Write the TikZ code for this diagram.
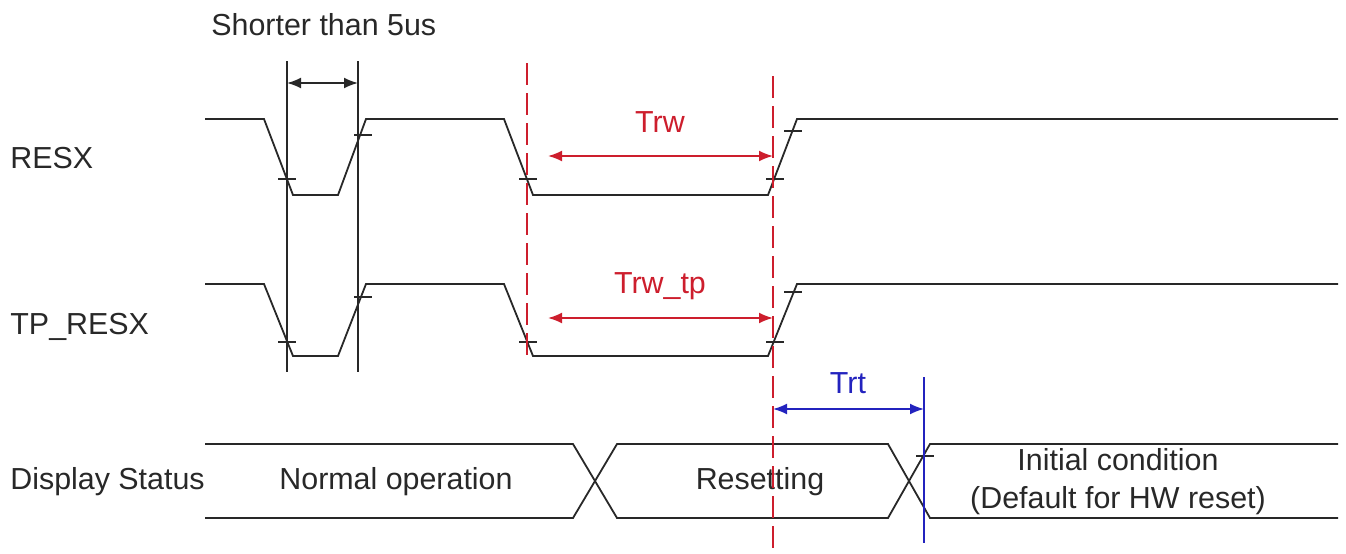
\documentclass[tikz,border=0pt]{standalone}
\usepackage{fontspec}
\setmainfont{Liberation Sans}
\usetikzlibrary{arrows.meta}

\definecolor{sigline}{RGB}{40,40,40}
\definecolor{rwred}{RGB}{205,30,45}
\definecolor{rtblue}{RGB}{35,35,190}

\tikzset{
  sig/.style={draw=sigline, line width=0.9pt},
  guide/.style={draw=sigline, line width=0.8pt},
  redguide/.style={draw=rwred, line width=0.8pt, dash pattern=on 11pt off 4pt},
  span/.style={line width=0.9pt, {Latex[length=7pt,width=5.5pt]}-{Latex[length=7pt,width=5.5pt]}},
  lbl/.style={font=\fontsize{15.2}{17}\selectfont, text=sigline, inner sep=0pt},
}

\begin{document}
\begin{tikzpicture}[x=0.5pt,y=-0.5pt]
\useasboundingbox (0,0) rectangle (1346,553);

% signal names
\node[lbl, anchor=west] (resx) at (10,158) {RESX};
\node[lbl, anchor=west] (tpresx) at (10,327) {TP\_RESX};
\node[lbl, anchor=west] (dstatus) at (10,482) {Display Status};

% RESX
\draw[sig] (205,119) -- (264,119) -- (293,195) -- (338,195) -- (366,119) -- (504,119)
   -- (533,195) -- (768,195) -- (797,119) -- (1338,119);
% TP_RESX
\draw[sig] (205,284) -- (264,284) -- (293,356) -- (338,356) -- (366,284) -- (504,284)
   -- (533,356) -- (768,356) -- (797,284) -- (1338,284);

% edge marks
\foreach \x/\y in {287/179, 363/135, 528/179, 775/179, 793/131,
                   287/342, 363/297, 528/342, 775/342, 793/292, 925/456}
  \draw[sig, line width=0.7pt] (\x-9,\y) -- (\x+9,\y);

% Display Status
\draw[sig] (205,444) -- (573,444) -- (617,518) -- (888,518) -- (930,444) -- (1338,444);
\draw[sig] (205,518) -- (573,518) -- (617,444) -- (888,444) -- (930,518) -- (1338,518);
\node[lbl] (normal) at (396,482) {Normal operation};
\node[lbl] (resetting) at (760,482) {Resetting};
\node[lbl, align=center] (initial) at (1118,482) {Initial condition\\[2pt](Default for HW reset)};

% short pulse guides
\coordinate (ga) at (287,61);
\coordinate (gb) at (358,61);
\draw[guide] (ga) -- (287,372);
\draw[guide] (gb) -- (358,372);
\draw[span, sigline] (ga |- 0,83) -- (gb |- 0,83);
\node[lbl, anchor=west] (shorter) at (211,25) {Shorter than 5us};

% reset width
\coordinate (ra) at (527,63);
\coordinate (rb) at (773,76);
\draw[redguide] (ra) -- (527,362);
\draw[redguide] (rb) -- (773,553);
\draw[span, rwred] (548,156) -- (rb |- 0,156);
\node[lbl, text=rwred] (trw) at (660,122) {Trw};
\draw[span, rwred] (548,318) -- (rb |- 0,318);
\node[lbl, text=rwred] (trwtp) at (660,286) {Trw\_tp};

% reset time
\coordinate (ba) at (924,377);
\draw[line width=0.9pt, draw=rtblue] (ba) -- (924,543);
\draw[span, rtblue] (rb |- 0,409) -- (ba |- 0,409);
\node[lbl, text=rtblue] (trt) at (848,383) {Trt};
\end{tikzpicture}
\end{document}
